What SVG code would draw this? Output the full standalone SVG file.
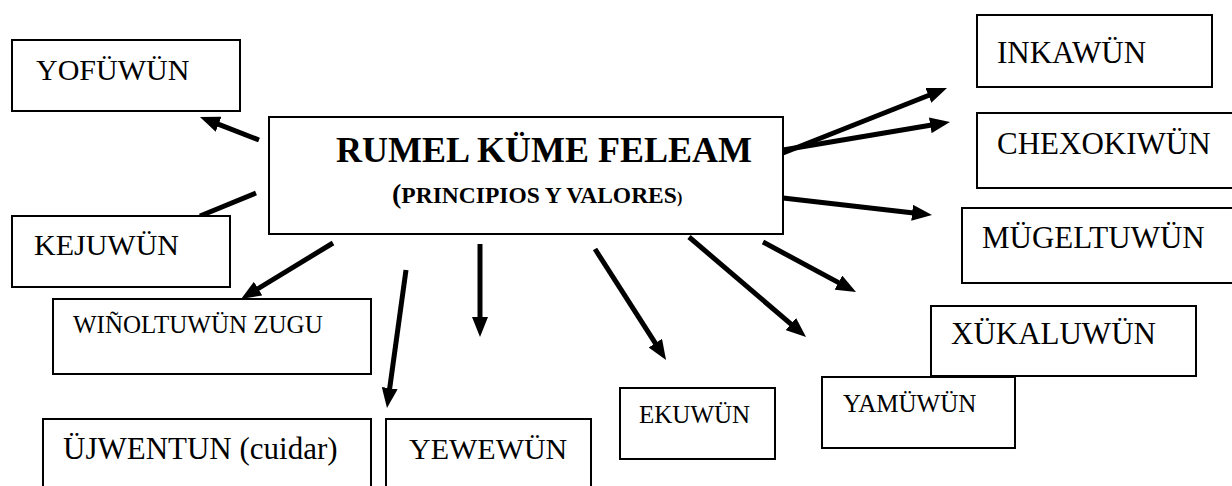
<svg xmlns="http://www.w3.org/2000/svg" width="1232" height="486" viewBox="0 0 1232 486">
  <style>
    .box { fill: #ffffff; stroke: #000000; stroke-width: 2; }
    .conn line { stroke: #000000; stroke-width: 5; stroke-linecap: butt; }
    .arr { marker-end: url(#head); }
  </style>
  <defs>
    <marker id="head" markerUnits="userSpaceOnUse" markerWidth="20" markerHeight="16" refX="6" refY="8" orient="auto">
      <path d="M0,0 L20,8 L0,16 Z" fill="#000000"/>
    </marker>
  </defs>
  <rect width="1232" height="486" fill="#ffffff"/>

  <g id="connectors" class="conn">
    <line class="arr" x1="259" y1="140" x2="213" y2="122.1"/>
    <line x1="256" y1="193" x2="200" y2="216"/>
    <line class="arr" x1="783" y1="153" x2="934" y2="93.2"/>
    <line class="arr" x1="783" y1="150" x2="936.2" y2="124.3"/>
    <line class="arr" x1="783" y1="198" x2="918.1" y2="213.4"/>
    <line class="arr" x1="763" y1="242" x2="843.7" y2="285.4"/>
    <line class="arr" x1="689" y1="237" x2="795.4" y2="327.9"/>
    <line class="arr" x1="595" y1="249" x2="658.5" y2="348.2"/>
    <line class="arr" x1="480" y1="244" x2="480" y2="323"/>
    <line class="arr" x1="406" y1="270" x2="388.9" y2="394.1"/>
    <line class="arr" x1="333" y1="243" x2="253" y2="291.7"/>
  </g>

  <g font-family="Liberation Serif, Times New Roman, serif" fill="#000000">
  <g id="center">
    <rect class="box" x="269" y="117" width="514" height="117"/>
    <text x="336" y="162" font-size="36" font-weight="bold">RUMEL KÜME FELEAM</text>
    <text x="392" y="203" font-weight="bold"><tspan font-size="28">(</tspan><tspan font-size="23.5">PRINCIPIOS Y VALORES</tspan><tspan font-size="16">)</tspan></text>
  </g>

  <g id="yofuwun">
    <rect class="box" x="12" y="40" width="228" height="71"/>
    <text x="36" y="80" font-size="30">YOFÜWÜN</text>
  </g>

  <g id="kejuwun">
    <rect class="box" x="12" y="216" width="218" height="71"/>
    <text x="34" y="255" font-size="30">KEJUWÜN</text>
  </g>

  <g id="winoltuwun">
    <rect class="box" x="53" y="299" width="318" height="75"/>
    <text x="73" y="333" font-size="25">WIÑOLTUWÜN ZUGU</text>
  </g>

  <g id="ujwentun">
    <rect class="box" x="43" y="419" width="328" height="75"/>
    <text x="63" y="459" font-size="31">ÜJWENTUN (cuidar)</text>
  </g>

  <g id="yewewun">
    <rect class="box" x="386" y="419" width="205" height="75"/>
    <text x="409" y="459" font-size="30">YEWEWÜN</text>
  </g>

  <g id="ekuwun">
    <rect class="box" x="620" y="388" width="155" height="71"/>
    <text x="639" y="423" font-size="25">EKUWÜN</text>
  </g>

  <g id="yamuwun">
    <rect class="box" x="822" y="377" width="193" height="71"/>
    <text x="843" y="412" font-size="25">YAMÜWÜN</text>
  </g>

  <g id="xukaluwun">
    <rect class="box" x="931" y="306" width="265" height="70"/>
    <text x="951" y="344" font-size="31">XÜKALUWÜN</text>
  </g>

  <g id="mugeltuwun">
    <rect class="box" x="962" y="208" width="280" height="75"/>
    <text x="982" y="248" font-size="31">MÜGELTUWÜN</text>
  </g>

  <g id="chexokiwun">
    <rect class="box" x="977" y="113" width="265" height="75"/>
    <text x="997" y="154" font-size="31">CHEXOKIWÜN</text>
  </g>

  <g id="inkawun">
    <rect class="box" x="977" y="15" width="235" height="72"/>
    <text x="997" y="63" font-size="31">INKAWÜN</text>
  </g>
  </g>
</svg>
